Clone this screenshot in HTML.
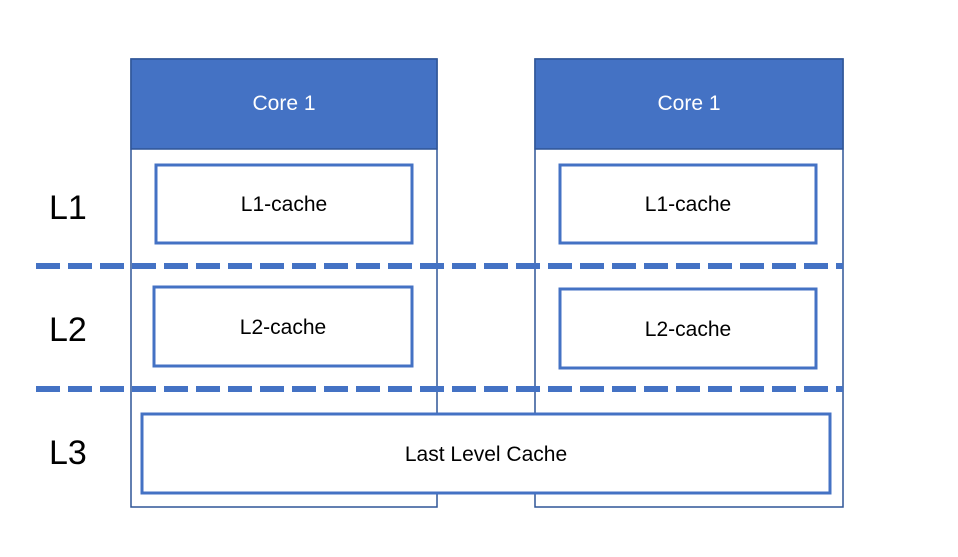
<!DOCTYPE html><html><head><style>body{margin:0;background:#fff}</style></head><body>
<svg width="958" height="552" xmlns="http://www.w3.org/2000/svg" font-family="Liberation Sans, sans-serif">
<rect x="131" y="59" width="306" height="448" fill="#fff" stroke="#2f5597" stroke-width="1.5"/>
<rect x="535" y="59" width="308" height="448" fill="#fff" stroke="#2f5597" stroke-width="1.5"/>
<rect x="131" y="59" width="306" height="90" fill="#4472c4" stroke="#2f5597" stroke-width="1.5"/>
<rect x="535" y="59" width="308" height="90" fill="#4472c4" stroke="#2f5597" stroke-width="1.5"/>
<text x="284" y="110" font-size="21" fill="#fff" text-anchor="middle">Core 1</text>
<text x="689" y="110" font-size="21" fill="#fff" text-anchor="middle">Core 1</text>
<g fill="#fff" stroke="#4472c4" stroke-width="3">
<rect x="156" y="165" width="256" height="78"/>
<rect x="560" y="165" width="256" height="78"/>
<rect x="154" y="287" width="258" height="79"/>
<rect x="560" y="289" width="256" height="79"/>
<rect x="142" y="414" width="688" height="79"/>
</g>
<g stroke="#4472c4" stroke-width="6" stroke-dasharray="24 8">
<line x1="36" y1="266" x2="843" y2="266"/>
<line x1="36" y1="389" x2="843" y2="389"/>
</g>
<g font-size="21" text-anchor="middle" fill="#000">
<text x="284" y="211">L1-cache</text>
<text x="688" y="211">L1-cache</text>
<text x="283" y="334">L2-cache</text>
<text x="688" y="336">L2-cache</text>
<text x="486" y="461">Last Level Cache</text>
</g>
<g font-size="34" fill="#000">
<text x="49" y="219">L1</text>
<text x="49" y="341">L2</text>
<text x="49" y="464">L3</text>
</g>
</svg>
</body></html>
